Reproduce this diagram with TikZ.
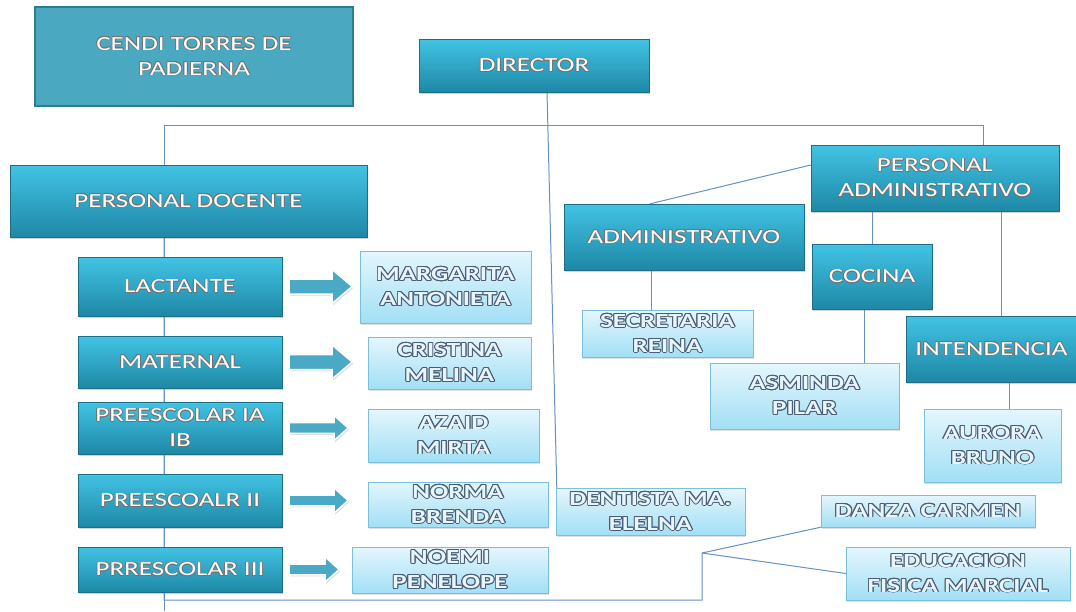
\documentclass[tikz,border=0pt]{standalone}
\usepackage{fontspec}
\setmainfont[FakeStretch=1.35]{Carlito}
\usepackage{contour}
\usetikzlibrary{shadows,backgrounds,positioning}
\definecolor{darktop}{RGB}{66,195,228}
\definecolor{darkbot}{RGB}{30,136,166}
\definecolor{darkedge}{RGB}{28,110,135}
\definecolor{cendifill}{RGB}{75,168,193}
\definecolor{cendiedge}{RGB}{44,124,146}
\definecolor{lighttop}{RGB}{228,246,253}
\definecolor{lightbot}{RGB}{162,223,245}
\definecolor{lightedge}{RGB}{120,192,222}
\definecolor{linecol}{RGB}{100,145,200}
\definecolor{arrowcol}{RGB}{74,169,196}
\definecolor{nametext}{RGB}{232,246,252}
\definecolor{nameedge}{RGB}{74,92,118}
\tikzstyle{flatbox} = [draw=cendiedge, line width=1.5pt, fill=cendifill, text=white, align=center,
    font=\fontsize{20}{25}\selectfont, inner sep=0pt]
\tikzstyle{darkbox} = [draw=darkedge, top color=darktop, bottom color=darkbot, text=white, align=center,
    font=\fontsize{20}{25}\selectfont, inner sep=0pt,
    drop shadow={opacity=0.35,shadow xshift=1pt,shadow yshift=-2pt}]
\tikzstyle{namebox} = [draw=lightedge, top color=lighttop, bottom color=lightbot, text=nametext, align=center,
    font=\fontsize{20}{25}\selectfont\bfseries, inner sep=0pt,
    drop shadow={opacity=0.25,shadow xshift=1pt,shadow yshift=-1.5pt}]
\tikzstyle{link} = [draw=linecol, line width=1pt]
\tikzstyle{fat} = [fill=arrowcol, draw=white, line width=1.5pt, line join=miter,
    drop shadow={opacity=0.3,shadow xshift=1pt,shadow yshift=-1.5pt}]
\newcommand{\dk}[1]{\contourlength{0.6pt}\contour{black!55}{#1}}
\newcommand{\nm}[1]{\contourlength{0.95pt}\contour{nameedge}{#1}}
\newcommand{\fatarrow}[5]{\draw[fat] ([xshift=7pt]#1.east) ++(0,-#2) -- ++({#4-#5},0) -- ++(0,{#2-#3})
    -- ++(#5,#3) -- ++(-#5,#3) -- ++(0,{#2-#3}) -- ++({#5-#4},0) -- cycle;}

\begin{document}
\begin{tikzpicture}[x=1pt, y=-1pt]
  \useasboundingbox (0,0) rectangle (1076,611);
  \node [flatbox, minimum width=318pt, minimum height=99pt] (cendi) at (194,56.5) {\dk{CENDI TORRES DE}\\\dk{PADIERNA}};
  \node [darkbox, minimum width=230pt, minimum height=53pt] (director) at (534,65.5) {\dk{DIRECTOR}};
  \node [darkbox, minimum width=357pt, minimum height=72pt] (docente) at (188.5,201) {\dk{PERSONAL DOCENTE}};
  \node [darkbox, minimum width=248pt, minimum height=66pt] (padmin) at (935,178) {\dk{PERSONAL}\\\dk{ADMINISTRATIVO}};
  \node [darkbox, minimum width=240pt, minimum height=66pt] (admin) at (684,237) {\dk{ADMINISTRATIVO}};
  \node [darkbox, minimum width=120pt, minimum height=65pt] (cocina) at (872,276.5) {\dk{COCINA}};
  \node [darkbox, minimum width=171pt, minimum height=66pt] (intendencia) at (991.5,349) {\dk{INTENDENCIA}};
  \node [namebox, minimum width=171pt, minimum height=47pt] (secretaria) at (667.5,333.5) {\nm{SECRETARIA}\\\nm{REINA}};
  \node [namebox, minimum width=189pt, minimum height=66pt] (asminda) at (804.5,396) {\nm{ASMINDA}\\\nm{PILAR}};
  \node [namebox, minimum width=137pt, minimum height=73pt] (aurora) at (992.5,445.5) {\nm{AURORA}\\\nm{BRUNO}};
  \node [namebox, minimum width=189pt, minimum height=47pt] (dentista) at (650.5,511.5) {\nm{DENTISTA MA.}\\\nm{ELELNA}};
  \node [namebox, minimum width=214pt, minimum height=32pt] (danza) at (928,511) {\nm{DANZA CARMEN}};
  \node [namebox, minimum width=224pt, minimum height=53pt] (educacion) at (958,573.5) {\nm{EDUCACION}\\\nm{FISICA MARCIAL}};
  \node [darkbox, minimum width=204pt, minimum height=59pt] (lactante) at (180,286.5) {\dk{LACTANTE}};
  \node [darkbox, minimum width=204pt, minimum height=52pt] (maternal) at (180,362) {\dk{MATERNAL}};
  \node [darkbox, minimum width=204pt, minimum height=52pt] (preia) at (180,428) {\dk{PREESCOLAR IA}\\\dk{IB}};
  \node [darkbox, minimum width=204pt, minimum height=53pt] (preii) at (180,500.5) {\dk{PREESCOALR II}};
  \node [darkbox, minimum width=204pt, minimum height=45pt] (preiii) at (180,569.5) {\dk{PRRESCOLAR III}};
  \node [namebox, minimum width=171pt, minimum height=72pt] (margarita) at (445.5,287) {\nm{MARGARITA}\\\nm{ANTONIETA}};
  \node [namebox, minimum width=163pt, minimum height=52pt] (cristina) at (449.5,363) {\nm{CRISTINA}\\\nm{MELINA}};
  \node [namebox, minimum width=171pt, minimum height=53pt] (azaid) at (453.5,435.5) {\nm{AZAID}\\\nm{MIRTA}};
  \node [namebox, minimum width=180pt, minimum height=45pt] (norma) at (458,504.5) {\nm{NORMA}\\\nm{BRENDA}};
  \node [namebox, minimum width=196pt, minimum height=46pt] (noemi) at (450,570) {\nm{NOEMI}\\\nm{PENELOPE}};
  \coordinate (busl) at (164,125);
  \coordinate (busr) at (983,125);
  \coordinate (foot) at (164,611);
  \coordinate (elbow) at (702,600);
  \coordinate (split) at (702,553);
  \coordinate (dirfoot) at ([xshift=13pt]director.south);
  \coordinate (pa1) at ([yshift=13pt]padmin.west);
  \coordinate (pa3) at ([xshift=66pt]padmin.south);
  \coordinate (ad1) at ([xshift=-33pt]admin.south);
  \coordinate (co1) at ([xshift=-8pt]cocina.south);
  \coordinate (in1) at ([xshift=17.5pt]intendencia.south);
  \begin{scope}[on background layer]
    \draw [link] (docente.north -| busl) -- (busl) -- (busr) -- (padmin.north -| busr);
    \draw [link] (docente.south -| foot) -- (foot);
    \draw [link] (docente.south -| foot) |- (elbow) -- (split) -- (danza.south west);
    \draw [link] (split) -- (educacion.west);
    \draw [link] (dirfoot) -- ([xshift=1pt]dentista.north west);
    \draw [link] (pa1) -- ([xshift=-34pt]admin.north);
    \draw [link] (padmin.south -| cocina.north) -- (cocina.north);
    \draw [link] (pa3) -- (pa3 |- intendencia.north);
    \draw [link] (ad1) -- (ad1 |- secretaria.north);
    \draw [link] (co1) -- (co1 |- asminda.north);
    \draw [link] (in1) -- (in1 |- aurora.north);
  \end{scope}
  \fatarrow{lactante}{7.5}{17}{63}{20}
  \fatarrow{maternal}{7.5}{17}{63}{20}
  \fatarrow{preia}{5.3}{12.5}{59}{14}
  \fatarrow{preii}{5.3}{12.5}{59}{14}
  \fatarrow{preiii}{5.3}{12.5}{50}{14}
\end{tikzpicture}
\end{document}
